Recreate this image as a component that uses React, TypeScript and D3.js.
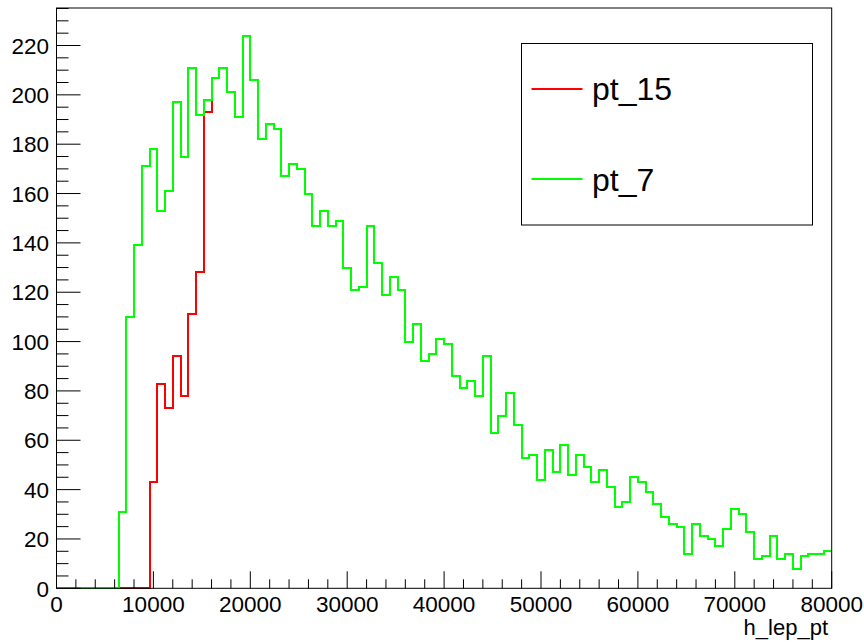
import React from "react";
import * as d3 from "d3";

const binEdgesRange: [number, number] = [0, 80000];
const nBins = 100;

const pt7Values = [
  0, 0, 0, 0, 0, 0, 0, 0, 31, 110,
  139, 171, 178, 153, 161, 197, 175, 211, 192, 198,
  207, 211, 201, 191, 224, 206, 182, 188, 186, 167,
  172, 170, 160, 147, 153, 147, 149, 130, 121, 122,
  147, 132, 119, 126, 121, 100, 107, 92, 95, 101,
  99, 86, 81, 84, 78, 94, 63, 70, 79, 66,
  53, 54, 44, 56, 47, 58, 46, 54, 49, 43,
  48, 41, 33, 35, 45, 43, 39, 34, 29, 26,
  25, 14, 26, 21, 20, 17, 24, 32, 30, 23,
  12, 13, 21, 12, 14, 8, 13, 14, 14, 15,
];

const pt15Values = [
  0, 0, 0, 0, 0, 0, 0, 0, 0, 0,
  0, 0, 43, 83, 73, 94, 78, 111, 128, 193,
  207, 211, 201, 191, 224, 206, 182, 188, 186, 167,
  172, 170, 160, 147, 153, 147, 149, 130, 121, 122,
  147, 132, 119, 126, 121, 100, 107, 92, 95, 101,
  99, 86, 81, 84, 78, 94, 63, 70, 79, 66,
  53, 54, 44, 56, 47, 58, 46, 54, 49, 43,
  48, 41, 33, 35, 45, 43, 39, 34, 29, 26,
  25, 14, 26, 21, 20, 17, 24, 32, 30, 23,
  12, 13, 21, 12, 14, 8, 13, 14, 14, 15,
];

const xTickValues = [0, 10000, 20000, 30000, 40000, 50000, 60000, 70000, 80000];
const yTickValues = [0, 20, 40, 60, 80, 100, 120, 140, 160, 180, 200, 220];
const seriesNames = ["pt_15", "pt_7"];
const xTitle = "h_lep_pt";

const W = 864;
const H = 642;
const L = 56.5;
const R = 831.7;
const T = 8;
const B = 588.3;
const FONT = "'Liberation Sans', Arial, Helvetica, sans-serif";

export default function App() {
  const yMax = d3.max(pt7Values)! * 1.05;
  const x = d3.scaleLinear().domain(binEdgesRange).range([L, R]);
  const y = d3.scaleLinear().domain([0, yMax]).range([B, T]);
  const binW = (binEdgesRange[1] - binEdgesRange[0]) / nBins;

  const stepPath = (vals: number[]) => {
    const pts: [number, number][] = vals.map((v, i) => [binEdgesRange[0] + i * binW, v]);
    pts.push([binEdgesRange[1], vals[vals.length - 1]]);
    return d3
      .line<[number, number]>()
      .x((d) => Math.round(x(d[0])))
      .y((d) => Math.round(y(d[1])))
      .curve(d3.curveStepAfter)(pts)!;
  };

  const xMinor = d3.range(0, 80001, 2000).filter((v) => v % 10000 !== 0);
  const yMinor = d3.range(0, yMax, 5).filter((v) => v % 20 !== 0);

  return (
    <svg
      width={W}
      height={H}
      style={{ position: "absolute", left: 0, top: 0, background: "#fff" }}
      fontFamily={FONT}
    >
      <rect x={0} y={0} width={W} height={H} fill="#fff" />
      {/* histograms */}
      <path d={stepPath(pt15Values)} fill="none" stroke="#ff0000" strokeWidth={2} shapeRendering="crispEdges" />
      <path d={stepPath(pt7Values)} fill="none" stroke="#00ff00" strokeWidth={2} shapeRendering="crispEdges" />

      {/* frame */}
      <rect x={L} y={T} width={R - L} height={B - T} fill="none" stroke="#000" strokeWidth={1} />

      {/* x ticks */}
      {xTickValues.map((v) => (
        <g key={"xt" + v}>
          <line x1={x(v)} x2={x(v)} y1={B} y2={B - 17} stroke="#000" strokeWidth={1} />
          <text x={x(v)} y={611.5} fontSize={22.5} textAnchor="middle" fill="#000">
            {v}
          </text>
        </g>
      ))}
      {xMinor.map((v) => (
        <line key={"xm" + v} x1={x(v)} x2={x(v)} y1={B} y2={B - 9} stroke="#000" strokeWidth={1} />
      ))}

      {/* y ticks */}
      {yTickValues.map((v) => (
        <g key={"yt" + v}>
          <line x1={L} x2={L + 24} y1={y(v)} y2={y(v)} stroke="#000" strokeWidth={1} />
          <text x={49} y={y(v) + 8.2} fontSize={22.5} textAnchor="end" fill="#000">
            {v}
          </text>
        </g>
      ))}
      {yMinor.map((v) => (
        <line key={"ym" + v} x1={L} x2={L + 12} y1={y(v)} y2={y(v)} stroke="#000" strokeWidth={1} />
      ))}

      {/* x title */}
      <text x={828} y={635} fontSize={22} textAnchor="end" fill="#000">
        {xTitle}
      </text>

      {/* legend */}
      <rect x={521.5} y={43.5} width={291} height={181.5} fill="#fff" stroke="#000" strokeWidth={1} />
      <line x1={531.5} x2={582.5} y1={89} y2={89} stroke="#ff0000" strokeWidth={2} />
      <text x={592} y={100} fontSize={32} fill="#000">
        {seriesNames[0]}
      </text>
      <line x1={531.5} x2={582.5} y1={179} y2={179} stroke="#00ff00" strokeWidth={2} />
      <text x={592} y={191} fontSize={32} fill="#000">
        {seriesNames[1]}
      </text>
    </svg>
  );
}
